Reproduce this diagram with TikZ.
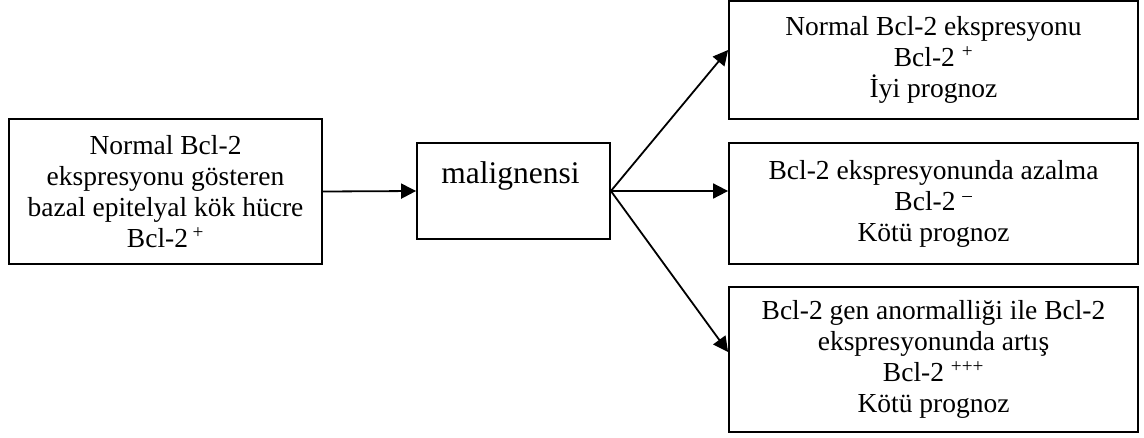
\documentclass[tikz,border=0pt]{standalone}
\usepackage{fontspec}
\setmainfont{Liberation Serif}
\usetikzlibrary{arrows.meta}
\begin{document}
\begin{tikzpicture}[x=1pt,y=-1pt,
  box/.style={draw, line width=1.8pt, align=center, inner sep=0pt, font=\fontsize{27.5}{31}\selectfont},
  arr/.style={line width=1.8pt, -{Triangle[length=15pt,width=15pt]}}]
\useasboundingbox (0,0) rectangle (1144,437);
\node[box, minimum width=313pt, minimum height=145pt] (src) at (165.5,191.5)
  {Normal Bcl-2\\ekspresyonu gösteren\\bazal epitelyal kök hücre\\Bcl-2\,\textsuperscript{+}};
\node[box, font=\fontsize{31.5}{36}\selectfont, minimum width=193pt, text height=40pt, text depth=56pt] (mal) at (513.5,191) {malignensi\hspace*{6pt}};
\node[box, minimum width=409pt, minimum height=118pt] (good) at (933.5,60)
  {Normal Bcl-2 ekspresyonu\\Bcl-2 \textsuperscript{+}\\İyi prognoz};
\node[box, minimum width=409pt, minimum height=121pt] (low) at (933.5,203.5)
  {Bcl-2 ekspresyonunda azalma\\Bcl-2 \textsuperscript{–}\\Kötü prognoz};
\node[box, minimum width=409pt, minimum height=145pt] (high) at (933.5,359.5)
  {Bcl-2 gen anormalliği ile Bcl-2\\ekspresyonunda artış\\Bcl-2 \textsuperscript{+++}\\Kötü prognoz};
\draw[arr] (src.east) -- (mal.west);
\draw[arr] (mal.east) -- ([yshift=10pt]good.west);
\draw[arr] (mal.east) -- (mal.east -| low.west);
\draw[arr] (mal.east) -- ([yshift=7.5pt]high.west);
\end{tikzpicture}
\end{document}
